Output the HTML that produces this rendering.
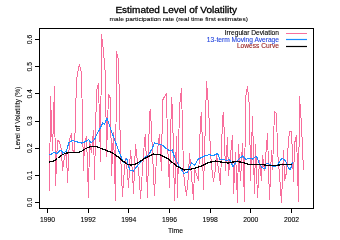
<!DOCTYPE html>
<html><head><meta charset="utf-8"><style>
html,body{margin:0;padding:0;background:#fff;width:340px;height:240px;overflow:hidden}
svg{display:block;will-change:transform;font-family:"Liberation Sans", sans-serif}
</style></head><body>
<svg width="340" height="240" viewBox="0 0 340 240">
<rect x="39.5" y="28.5" width="274" height="180" fill="none" stroke="#000" stroke-width="1" shape-rendering="crispEdges"/>
<line x1="35" y1="202.50" x2="39.5" y2="202.50" stroke="#000" stroke-width="1" shape-rendering="crispEdges"/>
<text x="31.8" y="202.50" transform="rotate(-90 31.8 202.50)" text-anchor="middle" font-size="6.8" fill="#000" stroke="#000" stroke-width="0.1">0.0</text>
<line x1="35" y1="175.33" x2="39.5" y2="175.33" stroke="#000" stroke-width="1" shape-rendering="crispEdges"/>
<text x="31.8" y="175.33" transform="rotate(-90 31.8 175.33)" text-anchor="middle" font-size="6.8" fill="#000" stroke="#000" stroke-width="0.1">0.1</text>
<line x1="35" y1="148.17" x2="39.5" y2="148.17" stroke="#000" stroke-width="1" shape-rendering="crispEdges"/>
<text x="31.8" y="148.17" transform="rotate(-90 31.8 148.17)" text-anchor="middle" font-size="6.8" fill="#000" stroke="#000" stroke-width="0.1">0.2</text>
<line x1="35" y1="121.00" x2="39.5" y2="121.00" stroke="#000" stroke-width="1" shape-rendering="crispEdges"/>
<text x="31.8" y="121.00" transform="rotate(-90 31.8 121.00)" text-anchor="middle" font-size="6.8" fill="#000" stroke="#000" stroke-width="0.1">0.3</text>
<line x1="35" y1="93.83" x2="39.5" y2="93.83" stroke="#000" stroke-width="1" shape-rendering="crispEdges"/>
<text x="31.8" y="93.83" transform="rotate(-90 31.8 93.83)" text-anchor="middle" font-size="6.8" fill="#000" stroke="#000" stroke-width="0.1">0.4</text>
<line x1="35" y1="66.67" x2="39.5" y2="66.67" stroke="#000" stroke-width="1" shape-rendering="crispEdges"/>
<text x="31.8" y="66.67" transform="rotate(-90 31.8 66.67)" text-anchor="middle" font-size="6.8" fill="#000" stroke="#000" stroke-width="0.1">0.5</text>
<line x1="35" y1="39.50" x2="39.5" y2="39.50" stroke="#000" stroke-width="1" shape-rendering="crispEdges"/>
<text x="31.8" y="39.50" transform="rotate(-90 31.8 39.50)" text-anchor="middle" font-size="6.8" fill="#000" stroke="#000" stroke-width="0.1">0.6</text>
<line x1="47.50" y1="208.5" x2="47.50" y2="213" stroke="#000" stroke-width="1" shape-rendering="crispEdges"/>
<text x="47.50" y="222" text-anchor="middle" font-size="6.8" fill="#000" stroke="#000" stroke-width="0.1">1990</text>
<line x1="88.17" y1="208.5" x2="88.17" y2="213" stroke="#000" stroke-width="1" shape-rendering="crispEdges"/>
<text x="88.17" y="222" text-anchor="middle" font-size="6.8" fill="#000" stroke="#000" stroke-width="0.1">1992</text>
<line x1="128.83" y1="208.5" x2="128.83" y2="213" stroke="#000" stroke-width="1" shape-rendering="crispEdges"/>
<text x="128.83" y="222" text-anchor="middle" font-size="6.8" fill="#000" stroke="#000" stroke-width="0.1">1994</text>
<line x1="169.50" y1="208.5" x2="169.50" y2="213" stroke="#000" stroke-width="1" shape-rendering="crispEdges"/>
<text x="169.50" y="222" text-anchor="middle" font-size="6.8" fill="#000" stroke="#000" stroke-width="0.1">1996</text>
<line x1="210.17" y1="208.5" x2="210.17" y2="213" stroke="#000" stroke-width="1" shape-rendering="crispEdges"/>
<text x="210.17" y="222" text-anchor="middle" font-size="6.8" fill="#000" stroke="#000" stroke-width="0.1">1998</text>
<line x1="250.83" y1="208.5" x2="250.83" y2="213" stroke="#000" stroke-width="1" shape-rendering="crispEdges"/>
<text x="250.83" y="222" text-anchor="middle" font-size="6.8" fill="#000" stroke="#000" stroke-width="0.1">2000</text>
<line x1="291.50" y1="208.5" x2="291.50" y2="213" stroke="#000" stroke-width="1" shape-rendering="crispEdges"/>
<text x="291.50" y="222" text-anchor="middle" font-size="6.8" fill="#000" stroke="#000" stroke-width="0.1">2002</text>
<text x="175.5" y="233" text-anchor="middle" font-size="6.8" fill="#000" stroke="#000" stroke-width="0.1">Time</text>
<text x="20.3" y="118" transform="rotate(-90 20.3 118)" text-anchor="middle" font-size="6.75" fill="#000" stroke="#000" stroke-width="0.1">Level of Volatility (%)</text>
<text transform="translate(176.2 12.9) scale(1.087 1)" text-anchor="middle" font-size="9.2" fill="#000" stroke="#000" stroke-width="0.3">Estimated Level of Volatility</text>
<text transform="translate(178.7 20.9) scale(1.08 1)" text-anchor="middle" font-size="6.1" fill="#000" stroke="#000" stroke-width="0.08">male participation rate (real time first estimates)</text>
<text transform="translate(279 35) scale(1.055 1)" text-anchor="end" font-size="6.3" fill="#000" stroke="#000" stroke-width="0.1">Irregular Deviation</text>
<text transform="translate(279 41.6) scale(1.055 1)" text-anchor="end" font-size="6.3" fill="#2244dd" stroke="#2244dd" stroke-width="0.1">13-term Moving Average</text>
<text transform="translate(279 47.6) scale(1.055 1)" text-anchor="end" font-size="6.3" fill="#992222" stroke="#992222" stroke-width="0.1">Lowess Curve</text>
<line x1="286" y1="33.5" x2="307" y2="33.5" stroke="#f86e9c" stroke-width="1"/>
<line x1="286" y1="39.5" x2="307" y2="39.5" stroke="#1c8cff" stroke-width="1.2"/>
<line x1="286" y1="46.5" x2="307" y2="46.5" stroke="#000" stroke-width="1.2"/>
<polyline points="49.5,191.5 50.5,96.5 52.5,150.5 54.5,86.5 55.5,185.5 57.5,140.5 59.5,141.5 61.5,150.5 62.5,170.5 64.5,156.5 66.5,152.5 67.5,182.5 69.5,139.5 71.5,133.5 72.5,150.5 74.5,151.5 76.5,80.5 78.5,68.5 79.5,64.5 81.5,73.5 83.5,170.5 84.5,143.5 86.5,136.5 88.5,197.5 89.5,140.5 91.5,152.5 93.5,130.5 94.5,179.5 96.5,90.5 98.5,83.5 100.5,161.5 101.5,34.5 103.5,51.5 105.5,75.5 106.5,156.5 108.5,94.5 110.5,98.5 111.5,175.5 113.5,132.5 115.5,200.5 116.5,51.5 118.5,60.5 120.5,152.5 122.5,196.5 123.5,180.5 125.5,158.5 127.5,172.5 128.5,187.5 130.5,150.5 132.5,172.5 133.5,193.5 135.5,144.5 137.5,162.5 139.5,180.5 140.5,198.5 142.5,169.5 144.5,140.5 145.5,134.5 147.5,197.5 149.5,113.5 150.5,109.5 152.5,152.5 154.5,195.5 155.5,172.5 157.5,149.5 159.5,134.5 161.5,170.5 162.5,100.5 164.5,96.5 166.5,93.5 167.5,142.5 169.5,187.5 171.5,97.5 172.5,109.5 174.5,200.5 176.5,136.5 177.5,197.5 179.5,106.5 181.5,88.5 183.5,170.5 184.5,182.5 186.5,195.5 188.5,174.5 189.5,153.5 191.5,176.5 193.5,199.5 194.5,168.5 196.5,174.5 198.5,180.5 200.5,119.5 201.5,112.5 203.5,189.5 205.5,119.5 206.5,81.5 208.5,106.5 210.5,151.5 211.5,166.5 213.5,181.5 215.5,168.5 216.5,154.5 218.5,169.5 220.5,184.5 222.5,118.5 223.5,112.5 225.5,170.5 227.5,137.5 228.5,175.5 230.5,155.5 232.5,135.5 233.5,193.5 235.5,152.5 237.5,202.5 238.5,144.5 240.5,180.5 242.5,143.5 244.5,201.5 245.5,97.5 247.5,86.5 249.5,107.5 250.5,180.5 252.5,116.5 254.5,193.5 255.5,144.5 257.5,197.5 259.5,160.5 261.5,180.5 262.5,155.5 264.5,170.5 266.5,146.5 267.5,133.5 269.5,199.5 271.5,150.5 272.5,169.5 274.5,111.5 276.5,113.5 277.5,150.5 279.5,175.5 281.5,202.5 283.5,150.5 284.5,180.5 286.5,172.5 288.5,140.5 289.5,131.5 291.5,131.5 293.5,181.5 294.5,143.5 296.5,135.5 298.5,201.5 299.5,96.5 301.5,125.5 303.5,170.5" fill="none" stroke="#f86e9c" stroke-width="1" stroke-linejoin="bevel" shape-rendering="crispEdges"/>
<polyline points="49.2,154.7 51.5,154.0 54.0,152.4 56.9,153.5 59.3,151.2 61.0,150.0 62.8,153.0 65.0,152.0 66.4,151.2 68.7,143.0 72.2,140.6 76.9,141.8 79.0,142.5 81.6,143.0 85.2,141.8 88.7,139.4 91.0,143.0 94.6,139.4 97.0,134.0 99.3,130.0 102.8,123.0 104.7,124.0 107.0,118.2 108.7,123.0 112.2,133.5 115.8,143.0 119.3,152.4 121.6,158.2 124.0,162.8 126.8,158.1 128.5,166.4 129.9,169.9 133.4,171.0 136.9,166.4 142.8,159.3 148.7,154.6 152.2,148.7 154.6,142.8 158.1,144.0 162.8,145.2 166.4,148.7 169.9,151.1 172.2,149.9 174.6,157.0 179.3,166.4 184.0,173.4 187.5,172.2 190.0,166.0 191.5,163.0 194.6,165.2 198.1,159.3 200.0,158.2 204.7,155.9 209.4,154.7 212.9,155.9 217.6,153.5 220.0,159.4 223.5,159.4 227.0,160.6 229.4,159.4 232.9,166.5 235.3,162.9 238.8,159.4 242.4,155.9 245.9,159.4 250.0,158.2 252.8,159.2 255.6,156.4 257.5,158.2 259.4,163.9 262.2,167.7 265.0,168.6 266.0,163.9 268.8,163.9 271.7,165.8 274.5,166.7 277.3,164.8 280.1,161.1 282.0,158.2 284.8,160.1 286.7,163.0 288.6,168.6 290.5,169.5 292.4,162.0" fill="none" stroke="#1c8cff" stroke-width="1.1" shape-rendering="crispEdges"/>
<polyline points="49.0,162.0 53.0,161.5 57.5,158.5 61.0,155.5 66.0,153.0 72.0,152.5 79.0,152.4 82.0,151.0 85.0,149.0 89.0,147.0 93.0,146.3 97.0,146.7 102.3,149.0 107.0,150.7 112.3,152.8 118.5,157.2 123.5,161.5 127.5,164.3 131.0,165.2 135.8,164.0 145.2,158.1 153.4,154.1 159.3,154.6 168.7,159.3 176.9,166.4 184.0,169.9 189.9,169.5 196.9,167.5 204.0,165.0 207.0,163.0 215.3,161.0 223.5,162.5 228.2,163.0 236.5,161.3 244.7,163.0 250.0,164.8 261.3,164.3 268.8,165.8 274.5,165.8 280.1,164.8 292.4,164.3" fill="none" stroke="#000" stroke-width="1.3" shape-rendering="crispEdges"/>
</svg></body></html>
